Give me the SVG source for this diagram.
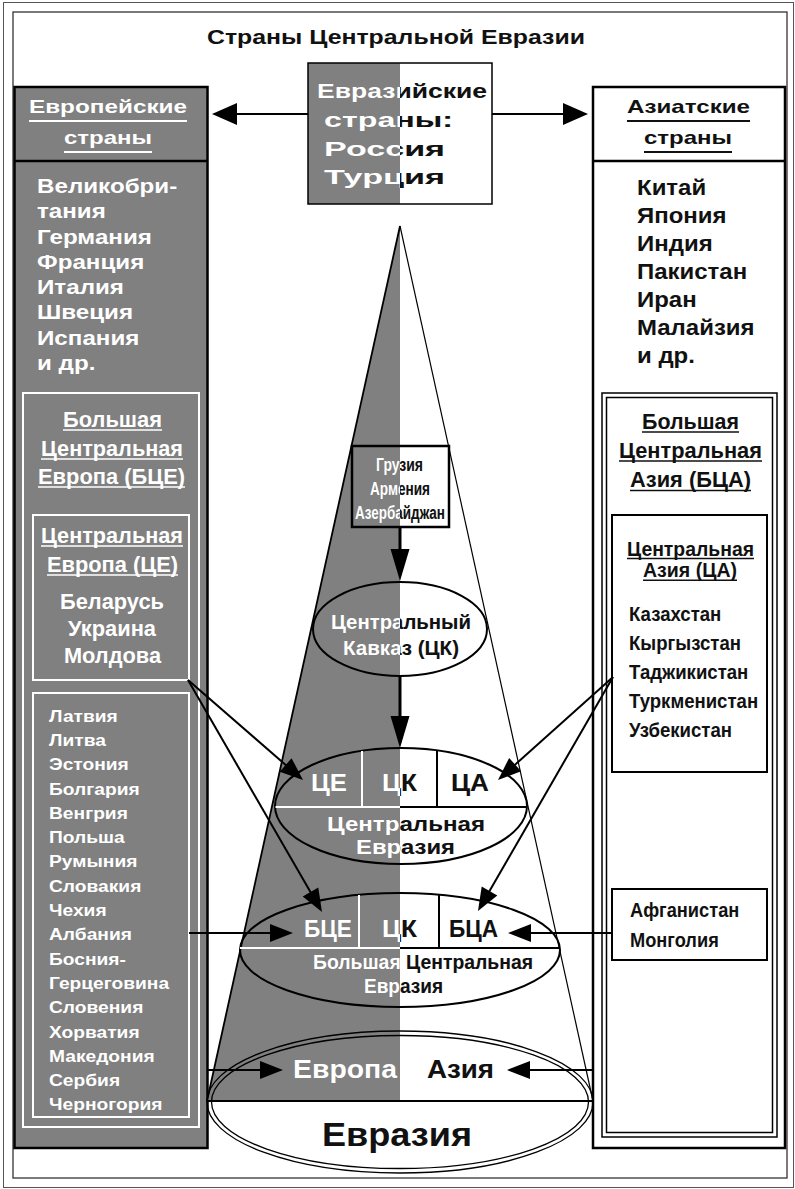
<svg xmlns="http://www.w3.org/2000/svg" width="795" height="1189" viewBox="0 0 795 1189">
<defs>
<style>
text{font-family:"Liberation Sans",Arial,sans-serif;font-weight:700}
.w{fill:#fff}
.k{fill:#111}
.s{fill:url(#split)}
.ulw{stroke:#fff;stroke-width:1.6}
.ulk{stroke:#111;stroke-width:1.6}
.bw{fill:none;stroke:#fff;stroke-width:2}
.bk{fill:none;stroke:#000;stroke-width:2}
.con{stroke:#000;stroke-width:2;fill:none}
.gray{fill:#808080}
</style>
<linearGradient id="split" gradientUnits="userSpaceOnUse" x1="0" y1="0" x2="795" y2="0">
<stop offset="0.50314" stop-color="#fff"/><stop offset="0.50314" stop-color="#111"/>
</linearGradient>
<marker id="ahL" markerUnits="userSpaceOnUse" markerWidth="26" markerHeight="22" refX="21" refY="11" orient="auto" overflow="visible"><path d="M0,0 L25,11 L0,22 Z" fill="#000"/></marker>
<marker id="ahM" markerUnits="userSpaceOnUse" markerWidth="23" markerHeight="18" refX="19" refY="9" orient="auto" overflow="visible"><path d="M0,0 L23,9 L0,18 Z" fill="#000"/></marker>
<marker id="ahV" markerUnits="userSpaceOnUse" markerWidth="32" markerHeight="19" refX="26" refY="9.5" orient="auto" overflow="visible"><path d="M0,0 L32,9.5 L0,19 Z" fill="#000"/></marker>
</defs>

<rect x="0" y="0" width="795" height="1189" fill="#fff"/>
<rect x="3.5" y="2.5" width="790" height="1185" fill="none" stroke="#555" stroke-width="1"/>
<rect x="13" y="12" width="774" height="1166" fill="none" stroke="#333" stroke-width="1.3"/>

<g id="title">
<text class="k" x="207" y="44" font-size="20" textLength="378" lengthAdjust="spacingAndGlyphs">Страны Центральной Евразии</text>
</g>

<!-- European column -->
<g id="europe">
<rect x="14.5" y="87" width="193" height="1061" class="gray" stroke="#000" stroke-width="2.5"/>
<line x1="14.5" y1="161" x2="207.5" y2="161" stroke="#000" stroke-width="2.5"/>
<text class="w" x="29" y="113" font-size="19" textLength="158" lengthAdjust="spacingAndGlyphs">Европейские</text>
<text class="w" x="64" y="144" font-size="19" textLength="88" lengthAdjust="spacingAndGlyphs">страны</text>
<line x1="29" y1="121" x2="187" y2="121" stroke="#fff" stroke-width="2"/>
<line x1="64" y1="152" x2="152" y2="152" stroke="#fff" stroke-width="2"/>
<g class="w" font-size="19.5" transform="translate(37 0) scale(1.24 1)">
<text y="193">Великобри-</text>
<text y="218.3">тания</text>
<text y="243.6">Германия</text>
<text y="268.9">Франция</text>
<text y="294.2">Италия</text>
<text y="319.5">Швеция</text>
<text y="344.8">Испания</text>
<text y="370.1">и др.</text>
</g>
</g>

<g id="bce">
<rect x="23" y="393" width="176" height="734" class="bw"/>
<text class="w" x="63" y="427" font-size="21.5" textLength="99" lengthAdjust="spacingAndGlyphs">Большая</text>
<text class="w" x="41" y="456" font-size="21.5" textLength="142" lengthAdjust="spacingAndGlyphs">Центральная</text>
<text class="w" x="38" y="484" font-size="21.5" textLength="147" lengthAdjust="spacingAndGlyphs">Европа (БЦЕ)</text>
<line x1="63" y1="430" x2="162" y2="430" class="ulw"/>
<line x1="41" y1="459" x2="183" y2="459" class="ulw"/>
<line x1="38" y1="487" x2="185" y2="487" class="ulw"/>
</g>

<g id="ce">
<rect x="33" y="515" width="156" height="165" class="bw"/>
<text class="w" x="41" y="543" font-size="21.5" textLength="142" lengthAdjust="spacingAndGlyphs">Центральная</text>
<text class="w" x="47" y="572" font-size="21.5" textLength="131" lengthAdjust="spacingAndGlyphs">Европа (ЦЕ)</text>
<line x1="41" y1="546" x2="183" y2="546" class="ulw"/>
<line x1="47" y1="575" x2="178" y2="575" class="ulw"/>
<text class="w" x="60" y="609" font-size="22" textLength="104" lengthAdjust="spacingAndGlyphs">Беларусь</text>
<text class="w" x="68" y="636" font-size="22" textLength="88" lengthAdjust="spacingAndGlyphs">Украина</text>
<text class="w" x="64" y="663" font-size="22" textLength="97" lengthAdjust="spacingAndGlyphs">Молдова</text>
</g>

<g id="cee-list">
<rect x="33" y="693" width="156" height="424" class="bw"/>
<g class="w" font-size="17" transform="translate(49 0) scale(1.13 1)">
<text y="721.7">Латвия</text>
<text y="746">Литва</text>
<text y="770.3">Эстония</text>
<text y="794.6">Болгария</text>
<text y="818.9">Венгрия</text>
<text y="843.2">Польша</text>
<text y="867.5">Румыния</text>
<text y="891.8">Словакия</text>
<text y="916.1">Чехия</text>
<text y="940.4">Албания</text>
<text y="964.7">Босния-</text>
<text y="989">Герцеговина</text>
<text y="1013.3">Словения</text>
<text y="1037.6">Хорватия</text>
<text y="1061.9">Македония</text>
<text y="1086.2">Сербия</text>
<text y="1110.5">Черногория</text>
</g>
</g>

<!-- Asian column -->
<g id="asia">
<rect x="593" y="87" width="192" height="1061" fill="#fff" stroke="#000" stroke-width="2.5"/>
<line x1="593" y1="161" x2="785" y2="161" stroke="#000" stroke-width="2.5"/>
<text class="k" x="627" y="113" font-size="19" textLength="123" lengthAdjust="spacingAndGlyphs">Азиатские</text>
<text class="k" x="644" y="144" font-size="19" textLength="88" lengthAdjust="spacingAndGlyphs">страны</text>
<line x1="627" y1="121" x2="750" y2="121" stroke="#111" stroke-width="2"/>
<line x1="644" y1="152" x2="732" y2="152" stroke="#111" stroke-width="2"/>
<g class="k" font-size="22" transform="translate(637 0) scale(1.09 1)">
<text y="195">Китай</text>
<text y="223">Япония</text>
<text y="251">Индия</text>
<text y="279">Пакистан</text>
<text y="307">Иран</text>
<text y="335">Малайзия</text>
<text y="363">и др.</text>
</g>
</g>

<g id="bca">
<rect x="602" y="393" width="175" height="744" fill="none" stroke="#000" stroke-width="1.5"/>
<rect x="606.5" y="397.5" width="166" height="735" fill="none" stroke="#000" stroke-width="1.5"/>
<text class="k" x="642" y="429" font-size="21.5" textLength="97" lengthAdjust="spacingAndGlyphs">Большая</text>
<text class="k" x="619" y="458" font-size="21.5" textLength="143" lengthAdjust="spacingAndGlyphs">Центральная</text>
<text class="k" x="630" y="487" font-size="21.5" textLength="121" lengthAdjust="spacingAndGlyphs">Азия (БЦА)</text>
<line x1="642" y1="432" x2="739" y2="432" class="ulk"/>
<line x1="619" y1="461" x2="762" y2="461" class="ulk"/>
<line x1="630" y1="490.5" x2="751" y2="490.5" class="ulk"/>
</g>

<g id="ca">
<rect x="612" y="515" width="155" height="257" class="bk"/>
<text class="k" x="627" y="555.7" font-size="19.5" textLength="127" lengthAdjust="spacingAndGlyphs">Центральная</text>
<text class="k" x="643" y="577.3" font-size="19.5" textLength="94" lengthAdjust="spacingAndGlyphs">Азия (ЦА)</text>
<line x1="627" y1="558.5" x2="754" y2="558.5" class="ulk"/>
<line x1="643" y1="580.3" x2="737" y2="580.3" class="ulk"/>
<g class="k" font-size="20" transform="translate(629 0) scale(0.93 1)">
<text y="621">Казахстан</text>
<text y="650">Кыргызстан</text>
<text y="679">Таджикистан</text>
<text y="708">Туркменистан</text>
<text y="737">Узбекистан</text>
</g>
</g>

<g id="afg">
<rect x="612" y="889" width="155" height="71" class="bk"/>
<g class="k" font-size="20.5" transform="translate(630 0) scale(0.89 1)">
<text y="917">Афганистан</text>
<text y="947">Монголия</text>
</g>
</g>

<!-- Eurasian countries box -->
<g id="eurasian">
<rect x="308" y="63" width="92" height="141" class="gray"/>
<rect x="308" y="63" width="184" height="141" fill="none" stroke="#000" stroke-width="1.5"/>
<text class="s" x="317" y="98" font-size="20" textLength="170" lengthAdjust="spacingAndGlyphs">Евразийские</text>
<text class="s" x="324" y="127" font-size="20" textLength="129" lengthAdjust="spacingAndGlyphs">страны:</text>
<text class="s" x="324" y="156" font-size="20" textLength="121" lengthAdjust="spacingAndGlyphs">Россия</text>
<text class="s" x="324" y="184" font-size="20" textLength="121" lengthAdjust="spacingAndGlyphs">Турция</text>
</g>

<!-- Cone -->
<g id="cone">
<polygon points="400,226 207,1101 400,1101" class="gray"/>
<line x1="400" y1="226" x2="207" y2="1101" stroke="#000" stroke-width="1.8"/>
<line x1="400" y1="226" x2="593" y2="1101" stroke="#000" stroke-width="1.2"/>
<line x1="207" y1="1101" x2="593" y2="1101" stroke="#000" stroke-width="2"/>
</g>

<g id="georgia">
<rect x="352" y="446" width="97" height="81" fill="none" stroke="#000" stroke-width="2.5"/>
<text class="s" x="376" y="471" font-size="18" textLength="47" lengthAdjust="spacingAndGlyphs">Грузия</text>
<text class="s" x="370" y="495" font-size="18" textLength="60" lengthAdjust="spacingAndGlyphs">Армения</text>
<text class="s" x="355" y="519" font-size="18" textLength="90" lengthAdjust="spacingAndGlyphs">Азербайджан</text>
</g>

<g id="ck">
<ellipse cx="400" cy="629" rx="87" ry="47" fill="none" stroke="#000" stroke-width="2"/>
<text class="s" x="331" y="629" font-size="20.5" textLength="140" lengthAdjust="spacingAndGlyphs">Центральный</text>
<text class="s" x="343" y="655" font-size="20.5" textLength="116" lengthAdjust="spacingAndGlyphs">Кавказ (ЦК)</text>
</g>

<g id="ceurasia">
<ellipse cx="401" cy="806" rx="126" ry="58" fill="none" stroke="#000" stroke-width="2"/>
<line x1="275.5" y1="807" x2="400" y2="807" stroke="#fff" stroke-width="2"/>
<line x1="400" y1="807" x2="526.5" y2="807" stroke="#000" stroke-width="2"/>
<line x1="362" y1="751" x2="362" y2="807" stroke="#fff" stroke-width="2"/>
<line x1="437" y1="751" x2="437" y2="807" stroke="#000" stroke-width="2"/>
<text class="s" x="311" y="791" font-size="23" textLength="36" lengthAdjust="spacingAndGlyphs">ЦЕ</text>
<text class="s" x="382" y="791" font-size="23" textLength="35" lengthAdjust="spacingAndGlyphs">ЦК</text>
<text class="s" x="451" y="791" font-size="23" textLength="38" lengthAdjust="spacingAndGlyphs">ЦА</text>
<text class="s" x="327" y="831" font-size="19.5" textLength="158" lengthAdjust="spacingAndGlyphs">Центральная</text>
<text class="s" x="356" y="854" font-size="19.5" textLength="99" lengthAdjust="spacingAndGlyphs">Евразия</text>
</g>

<g id="bceurasia">
<ellipse cx="400" cy="950" rx="160" ry="57" fill="none" stroke="#000" stroke-width="2"/>
<line x1="240" y1="948" x2="400" y2="948" stroke="#fff" stroke-width="2"/>
<line x1="400" y1="948" x2="560" y2="948" stroke="#000" stroke-width="2"/>
<line x1="359" y1="895" x2="359" y2="948" stroke="#fff" stroke-width="2"/>
<line x1="439" y1="895" x2="439" y2="948" stroke="#000" stroke-width="2"/>
<text class="s" x="304" y="937" font-size="23" textLength="48" lengthAdjust="spacingAndGlyphs">БЦЕ</text>
<text class="s" x="382" y="937" font-size="23" textLength="35" lengthAdjust="spacingAndGlyphs">ЦК</text>
<text class="s" x="449" y="937" font-size="23" textLength="49" lengthAdjust="spacingAndGlyphs">БЦА</text>
<text class="s" x="313" y="969" font-size="20" textLength="220" lengthAdjust="spacingAndGlyphs">Большая Центральная</text>
<text class="s" x="364" y="993" font-size="20" textLength="79" lengthAdjust="spacingAndGlyphs">Евразия</text>
</g>

<g id="eurasia">
<ellipse cx="400" cy="1102" rx="193" ry="71" fill="none" stroke="#000" stroke-width="1.3"/>
<ellipse cx="400" cy="1102" rx="188.5" ry="66.5" fill="none" stroke="#000" stroke-width="1.3"/>
<text class="s" x="293" y="1078" font-size="26.5" textLength="104" lengthAdjust="spacingAndGlyphs">Европа</text>
<text class="s" x="427" y="1078" font-size="26.5" textLength="67" lengthAdjust="spacingAndGlyphs">Азия</text>
<text class="k" x="322" y="1146" font-size="34" textLength="150" lengthAdjust="spacingAndGlyphs">Евразия</text>
</g>

<!-- Connectors -->
<g id="connectors" class="con">
<line x1="308" y1="114" x2="216" y2="114" marker-end="url(#ahL)"/>
<line x1="492" y1="114" x2="584" y2="114" marker-end="url(#ahL)"/>
<line x1="400" y1="527" x2="400" y2="575" stroke-width="3" marker-end="url(#ahV)"/>
<line x1="400" y1="676" x2="400" y2="742" stroke-width="3" marker-end="url(#ahV)"/>
<line x1="188" y1="680" x2="300" y2="777.4" marker-end="url(#ahM)"/>
<line x1="188" y1="680" x2="320" y2="908.5" marker-end="url(#ahM)"/>
<line x1="613" y1="677" x2="501" y2="777.3" marker-end="url(#ahM)"/>
<line x1="613" y1="677" x2="480" y2="907.5" marker-end="url(#ahM)"/>
<line x1="189" y1="933" x2="289" y2="933" marker-end="url(#ahM)"/>
<line x1="612" y1="933" x2="512" y2="933" marker-end="url(#ahM)"/>
<line x1="207" y1="1070" x2="279" y2="1070" marker-end="url(#ahM)"/>
<line x1="593" y1="1070" x2="511" y2="1070" marker-end="url(#ahM)"/>
</g>
</svg>
